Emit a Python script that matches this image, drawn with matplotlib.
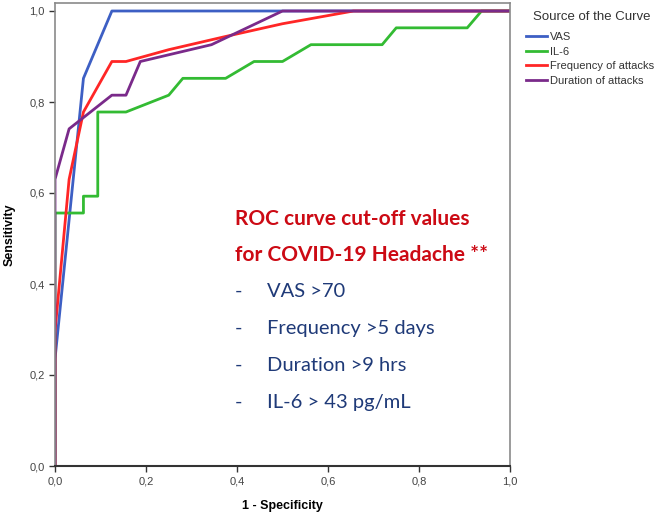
import matplotlib
matplotlib.use('Agg')
import matplotlib.pyplot as plt

# ROC curve points (1 - specificity, sensitivity)
vas_x = [0.0, 0.0, 0.0625, 0.125, 1.0]
vas_y = [0.0, 0.235, 0.852, 1.0, 1.0]

il6_x = [0.0, 0.0, 0.0625, 0.0625, 0.094, 0.094, 0.156, 0.25, 0.281, 0.375,
         0.4375, 0.5, 0.5625, 0.719, 0.75, 0.906, 0.9375, 1.0]
il6_y = [0.0, 0.556, 0.556, 0.593, 0.593, 0.778, 0.778, 0.815, 0.852, 0.852,
         0.889, 0.889, 0.926, 0.926, 0.963, 0.963, 1.0, 1.0]

freq_x = [0.0, 0.0, 0.031, 0.0625, 0.125, 0.156, 0.25, 0.375, 0.5, 0.656, 1.0]
freq_y = [0.0, 0.296, 0.63, 0.778, 0.889, 0.889, 0.915, 0.944, 0.972, 1.0, 1.0]

dur_x = [0.0, 0.0, 0.031, 0.125, 0.156, 0.1875, 0.344, 0.5, 1.0]
dur_y = [0.0, 0.63, 0.741, 0.815, 0.815, 0.889, 0.926, 1.0, 1.0]

labels = ['VAS', 'IL-6', 'Frequency of attacks', 'Duration of attacks']
colors = ['#3d5fc4', '#33bb33', '#ff2626', '#7a2a8a']

ticks = [0.0, 0.2, 0.4, 0.6, 0.8, 1.0]
tick_labels = ['0,0', '0,2', '0,4', '0,6', '0,8', '1,0']

title_lines = ['ROC curve cut-off values', 'for COVID-19 Headache **']
cutoffs = ['VAS >70', 'Frequency >5 days', 'Duration >9 hrs', 'IL-6 > 43 pg/mL']

plt.rcParams['font.family'] = ['Liberation Sans', 'DejaVu Sans']

fig = plt.figure(figsize=(6.57, 5.15), dpi=100)
ax = fig.add_axes([55/657, 49/515, 455/657, 463/515])

series = [(vas_x, vas_y), (il6_x, il6_y), (freq_x, freq_y), (dur_x, dur_y)]
for (xs, ys), lab, col in zip(series, labels, colors):
    ax.plot(xs, ys, color=col, lw=2.0, label=lab, solid_joinstyle='round')

ax.set_xlim(0, 1.0)
ax.set_ylim(0, 1.0 + 8/455)
ax.set_xticks(ticks)
ax.set_xticklabels(tick_labels)
ax.set_yticks(ticks)
ax.set_yticklabels(tick_labels)
ax.tick_params(labelsize=8, labelcolor='#444444', color='#333333',
               length=4, width=1)

for s in ['top', 'right', 'left']:
    ax.spines[s].set_color('#8a8a8a')
    ax.spines[s].set_linewidth(1.2)
ax.spines['bottom'].set_color('#333333')
ax.spines['bottom'].set_linewidth(1.5)

ax.set_xlabel('1 - Specificity', fontsize=9, fontweight='bold', labelpad=10)
ax.set_ylabel('Sensitivity', fontsize=9, fontweight='bold', labelpad=10)

# annotation box with cut-off values
red = '#cc0a14'
navy = '#1f3a78'
for i, t in enumerate(title_lines):
    fig.text(235/657, 1 - (225 + 36*i)/515, t, color=red, fontsize=15,
             fontweight='bold', family='Lato', va='baseline')
for i, t in enumerate(cutoffs):
    yy = 1 - (297 + 37*i)/515
    fig.text(235/657, yy, '-', color=navy, fontsize=14.5, family='Lato', va='baseline')
    fig.text(267/657, yy, t, color=navy, fontsize=14.5, family='Lato', va='baseline')

# legend
fig.text(533/657, 1 - 17/515, 'Source of the Curve', fontsize=9.5,
         color='#333333', va='center')
leg = ax.legend(loc='upper left', bbox_to_anchor=(526/657, 1 - 32/515),
                bbox_transform=fig.transFigure, frameon=False, fontsize=8,
                handlelength=1.9, handletextpad=0.25, labelspacing=0.42,
                borderaxespad=0.0, borderpad=0.0)
for t in leg.get_texts():
    t.set_color('#333333')

fig.savefig('out.png', dpi=100)
